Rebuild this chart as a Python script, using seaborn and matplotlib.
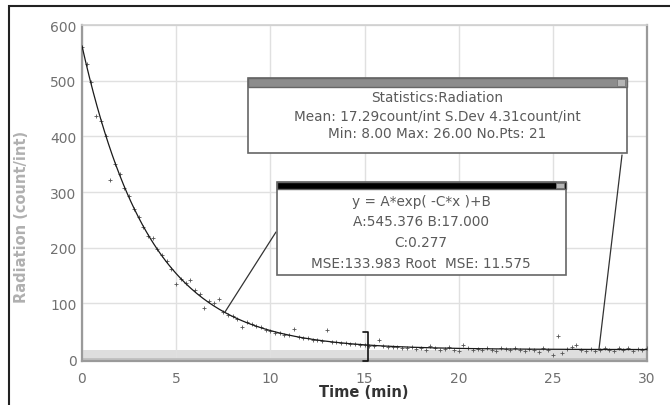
import numpy as np
import pandas as pd
import matplotlib
matplotlib.use('Agg')
import matplotlib.pyplot as plt
import seaborn as sns
from matplotlib.patches import Rectangle

# measured radiation (count/int) vs time (min)
time_min = [i * 0.25 for i in range(121)]
radiation = [
    560, 530, 497, 437, 428, 401, 321, 350, 333, 308,
    292, 270, 256, 238, 221, 217, 198, 186, 176, 162,
    134, 144, 137, 142, 124, 116, 92, 104, 100, 108,
    84, 80, 77, 72, 57, 66, 63, 60, 57, 52,
    50, 47, 46, 44, 43, 54, 40, 38, 37, 35,
    34, 33, 53, 31, 30, 29, 28, 27, 27, 26,
    25, 24, 24, 34, 23, 22, 22, 21, 20, 19,
    21, 18, 20, 17, 24, 19, 16, 18, 21, 17,
    15, 26, 19, 17, 18, 16, 20, 17, 14, 19,
    18, 16, 19, 17, 15, 18, 17, 13, 19, 16,
    8, 42, 10, 18, 21, 26, 17, 15, 18, 14,
    17, 19, 16, 14, 19, 16, 20, 15, 18, 16,
    19,
]

# fit parameters shown in the fit box
fit_A = 545.376
fit_B = 17.000
fit_C = 0.277
fit_mse = 133.983
fit_rmse = 11.575

# statistics box values
stat_mean = 17.29
stat_sdev = 4.31
stat_min = 8.00
stat_max = 26.00
stat_npts = 21

x_ticks = [0, 5, 10, 15, 20, 25, 30]
y_ticks = [0, 100, 200, 300, 400, 500, 600]

df = pd.DataFrame({'Time': time_min, 'Radiation': radiation})
fit_x = np.linspace(0, 30, 301)
fit = pd.DataFrame({'Time': fit_x, 'Fit': fit_A * np.exp(-fit_C * fit_x) + fit_B})

sns.set_style('white')
plt.rcParams['font.family'] = ['DejaVu Sans']

W, H = 670, 406
fig = plt.figure(figsize=(W / 100, H / 100), dpi=100)
ax = fig.add_axes([82 / W, 1 - 362 / H, (647 - 82) / W, (362 - 26) / H])


def px(x, y):
    # figure pixel -> data coords helper for annotations
    return ax.transData.inverted().transform(fig.transFigure.transform((x / W, 1 - y / H)))


ax.set_xlim(0, 30)
ax.set_ylim(-3.5, 600)
ax.grid(True, color='#e0e0e0', linewidth=1.0)
ax.set_axisbelow(True)
ax.axhspan(-3.5, 17, color='#dedede', zorder=0.5, lw=0)
ax.axhline(0, color='#bdbdbd', lw=1.2, zorder=0.6)

sns.scatterplot(data=df, x='Time', y='Radiation', ax=ax, marker='+', s=5,
                color='#555555', linewidth=0.6, zorder=3, legend=False)
sns.lineplot(data=fit, x='Time', y='Fit', ax=ax, color='#1a1a1a', lw=0.9, zorder=4)

ax.set_xticks(x_ticks)
ax.set_yticks(y_ticks)
ax.tick_params(direction='in', length=3, color='#444444', labelsize=10,
               labelcolor='#707070')
ax.tick_params(axis='x', pad=7)
ax.tick_params(axis='y', pad=4)
ax.set_xlabel('')
ax.set_ylabel('')
for side in ['left', 'right', 'bottom']:
    ax.spines[side].set_color('#9a9a9a')
    ax.spines[side].set_linewidth(1.6)
ax.spines['top'].set_color('#cfcfcf')
ax.spines['top'].set_linewidth(1.2)

fig.text(22 / W, 1 - 217 / H, 'Radiation (count/int)', rotation=90, ha='center',
         va='center', fontsize=10.5, color='#b0b0b0', fontweight='bold')
fig.text(364 / W, 1 - 393 / H, 'Time (min)', ha='center', va='center',
         fontsize=10.5, color='#333333', fontweight='bold')

# selection bracket near 15 min
bx, by0 = px(368, 333)
_, by1 = px(368, 362)
tx, _ = px(363, 333)
ax.plot([tx, bx, bx, tx], [by0, by0, by1, by1], color='#111111', lw=1.2, zorder=5,
        clip_on=False)

# leader lines
p1, p2 = px(276, 233), px(225, 313)
ax.plot([p1[0], p2[0]], [p1[1], p2[1]], color='#333333', lw=0.9, zorder=5)
q1, q2 = px(622, 156), px(599, 350)
ax.plot([q1[0], q2[0]], [q1[1], q2[1]], color='#333333', lw=0.9, zorder=5)


def box(x0, y0, x1, y1, bar_h, bar_color, lines, line_y, cx):
    fig.patches.append(Rectangle((x0 / W, 1 - y1 / H), (x1 - x0) / W, (y1 - y0) / H,
                                 transform=fig.transFigure, facecolor='white',
                                 edgecolor='#666666', lw=1.2, zorder=6))
    fig.patches.append(Rectangle((x0 / W, 1 - (y0 + bar_h) / H), (x1 - x0) / W, bar_h / H,
                                 transform=fig.transFigure, facecolor=bar_color,
                                 edgecolor='#666666', lw=1.0, zorder=7))
    fig.patches.append(Rectangle(((x1 - 10) / W, 1 - (y0 + bar_h - 1) / H), 8 / W, (bar_h - 2) / H,
                                 transform=fig.transFigure, facecolor='#b5b5b5',
                                 edgecolor='#777777', lw=0.6, zorder=8))
    for t, yy in zip(lines, line_y):
        fig.text(cx / W, 1 - yy / H, t, ha='center', va='center', fontsize=9.8,
                 color='#5a5a5a', zorder=9)


box(248, 79, 627, 154, 9, '#8c8c8c',
    ['Statistics:Radiation',
     'Mean: {:.2f}count/int S.Dev {:.2f}count/int'.format(stat_mean, stat_sdev),
     'Min: {:.2f} Max: {:.2f} No.Pts: {}'.format(stat_min, stat_max, stat_npts)],
    [98, 116, 134], 437)

box(277, 183, 566, 276, 7, '#000000',
    ['y = A*exp( -C*x )+B',
     'A:{:.3f} B:{:.3f}'.format(fit_A, fit_B),
     'C:{:.3f}'.format(fit_C),
     'MSE:{:.3f} Root  MSE: {:.3f}'.format(fit_mse, fit_rmse)],
    [202, 222, 243, 264], 421)

# outer frame
fig.patches.append(Rectangle((9 / W, -0.01), 1.0, 1 - 7 / H + 0.01, transform=fig.transFigure,
                             facecolor='none', edgecolor='#222222', lw=1.5, zorder=10))

fig.savefig('out.png', dpi=100)
